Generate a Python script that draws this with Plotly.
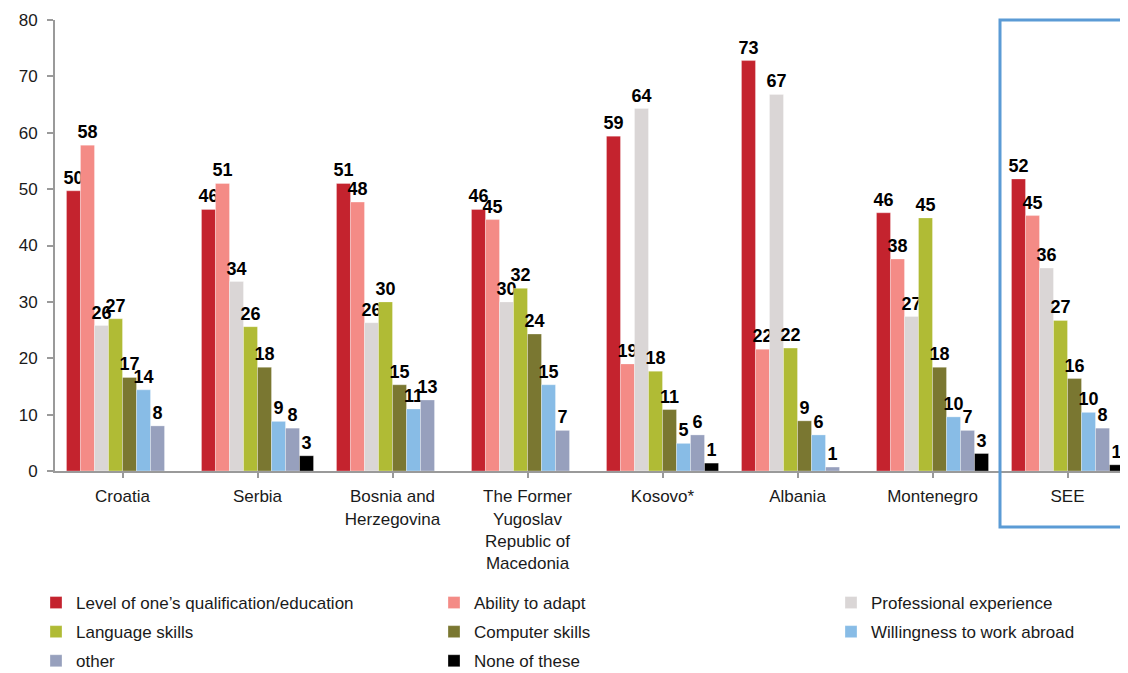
import plotly.graph_objects as go

categories = ["Croatia", "Serbia", "Bosnia and<br>Herzegovina",
              "The Former<br>Yugoslav<br>Republic of<br>Macedonia",
              "Kosovo*", "Albania", "Montenegro", "SEE"]

series_names = ["Level of one’s qualification/education", "Ability to adapt",
                "Professional experience", "Language skills", "Computer skills",
                "Willingness to work abroad", "other", "None of these"]

level_edu = [49.7, 46.4, 51.0, 46.4, 59.4, 72.8, 45.8, 51.8]
ability_adapt = [57.8, 51.0, 47.7, 44.6, 19.0, 21.6, 37.6, 45.3]
prof_experience = [25.8, 33.6, 26.3, 30.0, 64.3, 66.8, 27.4, 36.0]
language_skills = [27.0, 25.6, 30.0, 32.4, 17.7, 21.8, 44.9, 26.7]
computer_skills = [16.6, 18.4, 15.3, 24.3, 10.9, 8.9, 18.4, 16.4]
work_abroad = [14.4, 8.8, 11.0, 15.3, 4.9, 6.4, 9.6, 10.4]
other = [8.0, 7.6, 12.6, 7.2, 6.4, 0.7, 7.2, 7.6]
none_of_these = [None, 2.7, None, None, 1.4, None, 3.1, 1.1]

series_values = [level_edu, ability_adapt, prof_experience, language_skills,
                 computer_skills, work_abroad, other, none_of_these]
colors = ["#C4232E", "#F48B86", "#DAD6D6", "#B0BB35",
          "#7A7731", "#88BCE6", "#97A0BD", "#000000"]
# legend column for each series (3 columns, filled row by row)
legend_ids = ["legend", "legend2", "legend3", "legend", "legend2", "legend3", "legend", "legend2"]

FONT = "Liberation Sans, Arial, sans-serif"

fig = go.Figure()
x_idx = list(range(len(categories)))
for i, (name, vals, col, lg) in enumerate(zip(series_names, series_values, colors, legend_ids)):
    fig.add_trace(go.Bar(
        x=x_idx, y=vals, name=name, legend=lg, legendgroup=f"g{i}",
        marker=dict(color=col, line=dict(color="rgba(255,255,255,0.6)", width=0.5)),
        text=[("" if v is None else f"{round(v):.0f}") for v in vals],
        textposition="outside",
        textfont=dict(family=FONT, size=18, color="#000000", weight="bold"),
        constraintext="none",
        cliponaxis=False,
        hoverinfo="skip",
    ))

# page body has an 8px margin: figure origin sits at (8, 8) on screen
OFF = 8
W, H = 1128 - OFF, 673 - OFF
L = 55 - OFF
T = 20 - OFF
B = H - (471 - OFF)
plot_w = W - L
plot_h = H - T - B
cat_px = 135.0
x_max = -0.5 + plot_w / cat_px

legend_common = dict(orientation="v", xanchor="left", yanchor="top",
                     y=-(585 - 471) / plot_h, tracegroupgap=4,
                     font=dict(family=FONT, size=17, color="#1a1a1a"),
                     bgcolor="rgba(0,0,0,0)", borderwidth=0)

fig.update_layout(
    width=W, height=H,
    margin=dict(l=L, r=0, t=T, b=B, pad=0, autoexpand=False),
    paper_bgcolor="white", plot_bgcolor="white",
    barmode="group", bargap=0.17, bargroupgap=0.0,
    font=dict(family=FONT, size=17, color="#1a1a1a"),
    showlegend=True,
    legend=dict(x=(36 - 55) / plot_w, **legend_common),
    legend2=dict(x=(434 - 55) / plot_w, **legend_common),
    legend3=dict(x=(831 - 55) / plot_w, **legend_common),
    xaxis=dict(range=[-0.5, x_max], tickmode="array", tickvals=x_idx, ticktext=categories,
               tickson="boundaries", ticks="outside", ticklen=5, tickcolor="#9a9a9a", tickwidth=2,
               showline=True, linecolor="#9a9a9a", linewidth=2, showgrid=False, zeroline=False,
               ticklabelstandoff=4,
               tickfont=dict(family=FONT, size=17, color="#1a1a1a"), fixedrange=True),
    yaxis=dict(range=[0, 80], tickmode="linear", tick0=0, dtick=10,
               ticks="outside", ticklen=6, tickcolor="#9a9a9a", tickwidth=2,
               showline=True, linecolor="#9a9a9a", linewidth=2, showgrid=False, zeroline=False,
               ticklabelstandoff=6,
               tickfont=dict(family=FONT, size=17, color="#1a1a1a"), fixedrange=True),
)

# Highlight box around the SEE group
fig.add_shape(type="rect", xref="x", yref="paper",
              x0=6.5, x1=x_max + 0.2, y0=-(527 - 471) / plot_h, y1=1.0,
              line=dict(color="#5B9BD5", width=3), fillcolor="rgba(0,0,0,0)", layer="above")

fig.write_html("out.html")
